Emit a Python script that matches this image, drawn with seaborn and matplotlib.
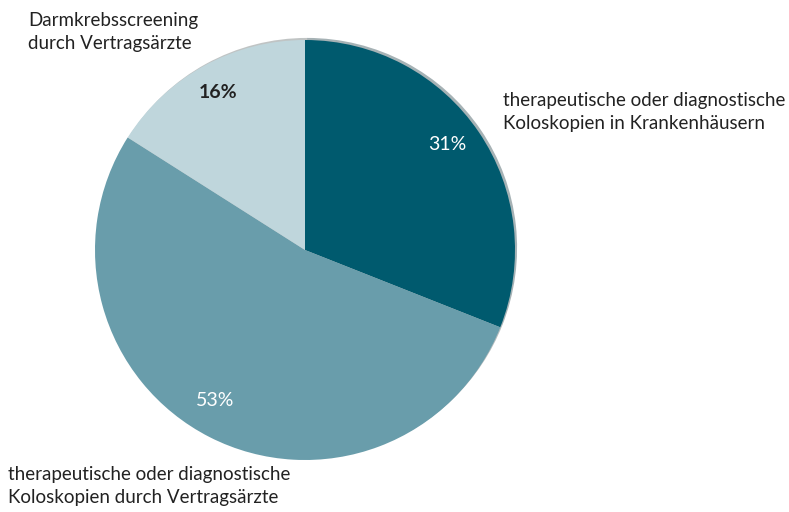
import matplotlib
matplotlib.use('Agg')
import matplotlib.pyplot as plt
import seaborn as sns

# Anteile der Koloskopien
categories = [
    "therapeutische oder diagnostische\nKoloskopien in Krankenhäusern",
    "therapeutische oder diagnostische\nKoloskopien durch Vertragsärzte",
    "Darmkrebsscreening\ndurch Vertragsärzte",
]
shares = [31, 53, 16]
colors = ["#005a6e", "#699dab", "#bfd6dc"]
pct_colors = ["white", "white", "#222222"]

sns.set_theme(style="white")
plt.rcParams['font.family'] = ['Lato', 'DejaVu Sans']

fig = plt.figure(figsize=(7.89, 5.12), dpi=100)
ax = fig.add_axes([0, 0, 1, 1])

# y-Achse ist invertiert -> counterclock=True läuft optisch im Uhrzeigersinn
wedges, texts = ax.pie(
    shares, colors=colors, center=(305, 250), radius=210,
    startangle=-90, counterclock=True, frame=True,
    wedgeprops=dict(linewidth=0),
    shadow=dict(ox=1.5, oy=-1.5, shade=0.6, alpha=0.35),
)
ax.set_xlim(0, 789)
ax.set_ylim(512, 0)
ax.axis('off')
ax.set_aspect('auto')

pct_pos = [(447, 145), (215, 400), (218, 93)]
for s, c, (x, y) in zip(shares, pct_colors, pct_pos):
    ax.text(x, y, f"{s}%", ha='center', va='center', fontsize=14, color=c,
            fontweight='bold' if c != "white" else 'normal')

label_pos = [(503, 112), (8, 486), (28, 32)]
for lab, (x, y) in zip(categories, label_pos):
    ax.text(x, y, lab, ha='left', va='center', fontsize=13.5, color="#222222",
            linespacing=1.4)

fig.savefig("out.png", dpi=100)
